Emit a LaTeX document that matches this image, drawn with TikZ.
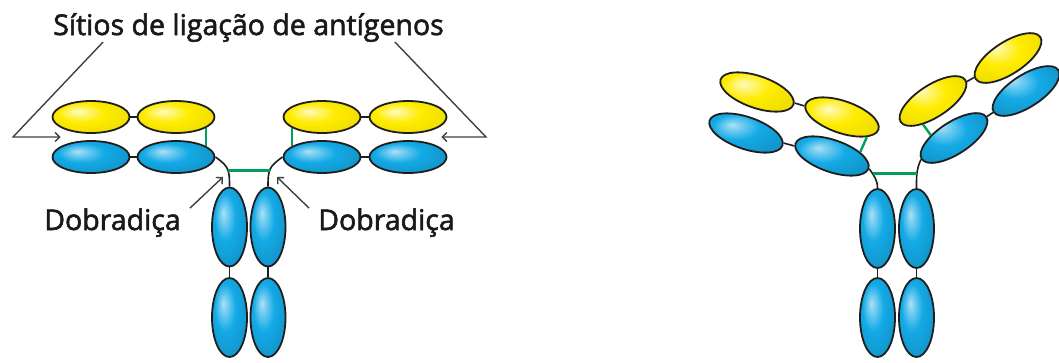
\documentclass[tikz,border=0pt]{standalone}
\usepackage{fontspec}
\setmainfont{Open Sans}[FakeBold=2]
\usepackage{tikz}
\usetikzlibrary{arrows.meta}
\usetikzlibrary{shapes.geometric}
\usetikzlibrary{calc}

\definecolor{hcblue}{RGB}{20,170,230}
\definecolor{lcyellow}{RGB}{255,236,0}
\definecolor{ssgreen}{RGB}{0,160,90}
\definecolor{outl}{RGB}{30,30,30}

\pgfdeclareradialshading{hcshade}{\pgfpoint{-9bp}{9bp}}{color(0bp)=(white!65!hcblue); color(5bp)=(white!42!hcblue); color(15bp)=(hcblue); color(30bp)=(hcblue!88!black); color(50bp)=(hcblue!88!black)}
\pgfdeclareradialshading{lcshade}{\pgfpoint{-9bp}{9bp}}{color(0bp)=(white!75!lcyellow); color(5bp)=(white!50!lcyellow); color(15bp)=(lcyellow); color(30bp)=(lcyellow!94!black); color(50bp)=(lcyellow!94!black)}

\tikzset{
  dom/.style={ellipse, draw=outl, line width=1.8pt, inner sep=0pt, minimum width=77pt, minimum height=32pt},
  hc/.style={dom, shade, shading=hcshade},
  lc/.style={dom, shade, shading=lcshade},
  stem/.style={hc, minimum width=35pt, minimum height=79pt},
  link/.style={draw=outl, line width=1.6pt},
  ss/.style={draw=ssgreen, line width=2.4pt},
  leader/.style={draw=black!75, line width=1.4pt, -{Straight Barb[length=4.5pt,width=9pt]}},
  lbl/.style={inner sep=0pt, anchor=base, font=\fontsize{28.5}{30}\selectfont, text=black!90},
}

\begin{document}
\begin{tikzpicture}[x=1pt,y=1pt,yscale=-1]
\useasboundingbox (0,0) rectangle (1059,362);

% Antibody with the arms spread out
\node[lc] (Ayl1) at (91,117) {};
\node[lc] (Ayl2) at (176,117) {};
\node[hc] (Abl1) at (91,157) {};
\node[hc] (Abl2) at (176,157) {};
\node[lc] (Ayr1) at (322,117) {};
\node[lc] (Ayr2) at (408,117) {};
\node[hc] (Abr1) at (322,157) {};
\node[hc] (Abr2) at (408,157) {};
\node[stem] (Acl1) at (229.5,227) {};
\node[stem] (Acl2) at (229.5,317.5) {};
\node[stem] (Acr1) at (268,227) {};
\node[stem] (Acr2) at (268,317.5) {};

\draw[link] (Ayl1) -- (Ayl2);
\draw[link] (Abl1) -- (Abl2);
\draw[link] (Ayr1) -- (Ayr2);
\draw[link] (Abr1) -- (Abr2);
\draw[link] (Acl1) -- (Acl2);
\draw[link] (Acr1) -- (Acr2);
% hinge
\draw[link] (Abl2.east) to[out=35,in=-90,looseness=1.3] coordinate[pos=0.55] (Assl) (Acl1.north);
\draw[link] (Abr1.west) to[out=145,in=-90,looseness=1.3] coordinate[pos=0.55] (Assr) (Acr1.north);
% disulfide bonds
\draw[ss] (Ayl2.-20) -- (Abl2.20);
\draw[ss] (Ayr1.200) -- (Abr1.160);
\draw[ss] (Assl) -- (Assl -| Assr);

% Text Node
\node[lbl] (sites) at (248.5,35) {Sítios de ligação de antígenos};
% Text Node
\node[lbl] (hingeL) at (112.5,230) {Dobradiça};
% Text Node
\node[lbl] (hingeR) at (386.5,230) {Dobradiça};

\coordinate (kneeL) at (13,137);
\coordinate (kneeR) at (486,137);
\coordinate (Adobl) at (223,177);
\coordinate (Adobr) at (277,177);
\draw[leader] ([xshift=50pt]sites.south west) -- (kneeL) -- ($(Ayl1.west)!0.5!(Abl1.west)+(9,0)$);
\draw[leader] ([xshift=-49pt]sites.south east) -- (kneeR) -- ($(Ayr2.east)!0.5!(Abr2.east)+(-6,0)$);
\draw[leader] ([xshift=9pt]hingeL.north east) -- (Adobl);
\draw[leader] ([xshift=-9pt]hingeR.north west) -- (Adobr);

% Antibody with the arms bent at the hinge
\node[lc,rotate=-19] (Byl1) at (757,92) {};
\node[lc,rotate=-19] (Byl2) at (842,117) {};
\node[hc,rotate=-19] (Bbl1) at (746,133) {};
\node[hc,rotate=-19] (Bbl2) at (832,156) {};
\node[lc,rotate=33] (Byr1) at (933,101) {};
\node[lc,rotate=33] (Byr2) at (1008,58) {};
\node[hc,rotate=33] (Bbr1) at (954,138) {};
\node[hc,rotate=33] (Bbr2) at (1026,91) {};
\node[stem] (Bcl1) at (877.5,228.5) {};
\node[stem] (Bcl2) at (877.5,317.5) {};
\node[stem] (Bcr1) at (916.5,228.5) {};
\node[stem] (Bcr2) at (916.5,317.5) {};

\draw[link] (Byl1) -- (Byl2);
\draw[link] (Bbl1) -- (Bbl2);
\draw[link] (Byr1) -- (Byr2);
\draw[link] (Bbr1) -- (Bbr2);
\draw[link] (Bcl1) -- (Bcl2);
\draw[link] (Bcr1) -- (Bcr2);
% hinge
\draw[link] (Bbl2.east) to[out=55,in=-90] coordinate[pos=0.25] (Bssl) (Bcl1.north);
\draw[link] (Bbr1.west) to[out=115,in=-90] coordinate[pos=0.5] (Bssr) (Bcr1.north);
% disulfide bonds
\draw[ss] (Byl2.-20) -- (Bbl2.27);
\draw[ss] (Byr1.-146) -- (Bbr1.140);
\draw[ss] (Bssl) -- (Bssl -| Bssr);

\end{tikzpicture}
\end{document}
